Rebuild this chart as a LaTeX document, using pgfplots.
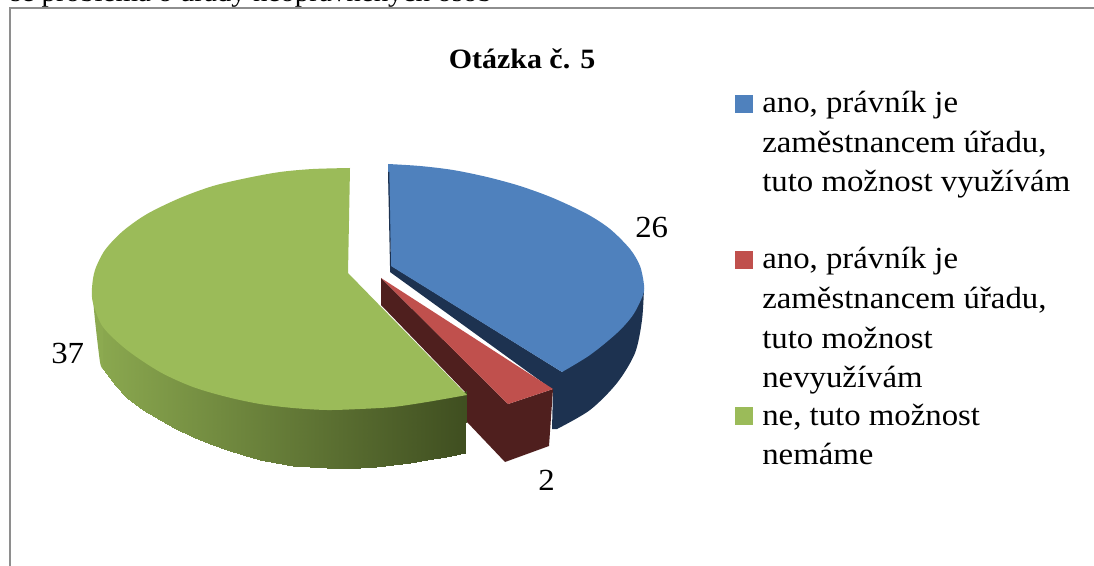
\documentclass[border=0pt]{standalone}
\usepackage{fontspec}
\setmainfont[FakeStretch=1.07]{Liberation Serif}
\usepackage{pgfplots}
\pgfplotsset{compat=1.18}

\definecolor{blueTop}{HTML}{4F81BD}
\definecolor{blueSide}{HTML}{1D3250}
\definecolor{redTop}{HTML}{C0504D}
\definecolor{redSide}{HTML}{4F1F1E}
\definecolor{greenTop}{HTML}{9BBB59}
\definecolor{frameGray}{HTML}{8E8E8E}

% axis units are the pixels of the reference, y runs downwards
\newcommand{\tl}[3]{\node[anchor=base west,inner sep=0pt] at (axis cs:#1,#2) {#3};}

\begin{document}
\begin{tikzpicture}
\useasboundingbox (0,0) rectangle (820.5pt,424.5pt);
\begin{axis}[
at={(0,0)},anchor=south west,
scale only axis,
width=820.5pt,height=424.5pt,
xmin=0,xmax=1094,ymin=0,ymax=566,
y dir=reverse,
hide axis,
clip=false,
colormap={side}{rgb255(0)=(63,78,32) rgb255(1)=(140,170,80)},
point meta min=0,point meta max=1,
font=\fontsize{23}{28}\selectfont
]

% frame
\addplot[frameGray,line width=1.3pt] coordinates {(10,566)(10,8)(1094,8)};

% blue slice, 26
\addplot[smooth,fill=blueSide,draw=none] coordinates {
(644,288)(642,320)(635,353)(617,383)(590,410)(557,429)
} -- (552,429) -- (553,390) -- (390,272) -- (390,265) -- (562,372) -- cycle;
\addplot[smooth,fill=blueTop,draw=none] coordinates {
(388,164)(420,166)(453,170)(487,177)(520,186)(553,198)(587,214)(610,229)(630,249)(640,266)(644,285)(643,295)(633,315)(617,333)(590,355)(562,372)
} -- (391,266) -- cycle;
\addplot[fill=blueSide,draw=none] coordinates {(388,172)(389.3,172)(391,266)(390,266)} -- cycle;

% red slice, 2
\addplot[fill=redSide,draw=none] coordinates {
(381,278)(508,404)(553,389)(549,446)(505,462)(467,422)(467,394)(381,305)
} -- cycle;
\addplot[fill=redTop,draw=none] coordinates {(381,278)(553,389)(508,404)} -- cycle;

% green slice, 37
\addplot[smooth,fill={rgb,255:red,140;green,170;blue,80},draw=none] coordinates {
(92,288)(95,320)(100,362)(103,369)
} -- (103,327) -- cycle;
\addplot[patch,patch type=rectangle,shader=interp,point meta=explicit] table[meta=c] {
x y c
103 327 .970
115 335 .939
115 385 .939
103 369 .970
115 335 .939
127 345 .907
127 398 .907
115 385 .939
127 345 .907
143 355 .864
143 410 .864
127 398 .907
143 355 .864
160 365 .819
160 420 .819
143 410 .864
160 365 .819
176 372 .776
176 429 .776
160 420 .819
176 372 .776
193 380 .731
193 437 .731
176 429 .776
193 380 .731
210 385 .685
210 444 .685
193 437 .731
210 385 .685
227 390 .640
227 450 .640
210 444 .685
227 390 .640
243 393 .597
243 455 .597
227 450 .640
243 393 .597
260 397 .552
260 460 .552
243 455 .597
260 397 .552
276 399 .509
276 463 .509
260 460 .552
276 399 .509
293 401 .464
293 466 .464
276 463 .509
293 401 .464
310 402 .419
310 467 .419
293 466 .464
310 402 .419
327 403 .373
327 468 .373
310 467 .419
327 403 .373
343 403 .331
343 468.5 .331
327 468 .373
343 403 .331
360 402 .285
360 468 .285
343 468.5 .331
360 402 .285
376 401 .243
376 467 .243
360 468 .285
376 401 .243
393 400 .197
393 465 .197
376 467 .243
393 400 .197
410 398 .152
410 463 .152
393 465 .197
410 398 .152
427 395 .107
427 460 .107
410 463 .152
427 395 .107
446 393 .056
446 457 .056
427 460 .107
446 393 .056
466 391 .005
465 453 .005
446 457 .056
};
\addplot[smooth,fill=greenTop,draw=none] coordinates {
(350,168)(313,169)(280,172)(247,178)(213,186)(180,198)(147,214)(123,231)(105,250)(95,270)(92,288)(93,303)
(103,327)(127,350)(160,372)(193,387)(227,397)(260,404)(293,408)(327,410)(360,409)(393,407)(427,402)(467,395)
} -- (348,273) -- cycle;

% legend keys
\addplot[fill=blueTop,draw=none] coordinates {(735,95)(753,95)(753,113)(735,113)} -- cycle;
\addplot[fill=redTop,draw=none] coordinates {(735,251)(753,251)(753,269)(735,269)} -- cycle;
\addplot[fill=greenTop,draw=none] coordinates {(735,407)(753,407)(753,425)(735,425)} -- cycle;

% text
\tl{10}{1.5}{\fontsize{20.3}{24}\selectfont se problémá o úřady neoprávněných osob}
\node[anchor=base,inner sep=0pt] at (axis cs:522,69) {\fontsize{21}{26}\selectfont\bfseries Otázka č. 5};
\tl{635}{238}{26}
\tl{51}{363}{37}
\tl{538}{490}{2}
\tl{762}{113}{ano, právník je}
\tl{762}{153}{zaměstnancem úřadu,}
\tl{762}{192}{tuto možnost využívám}
\tl{762}{269}{ano, právník je}
\tl{762}{308.5}{zaměstnancem úřadu,}
\tl{762}{348}{tuto možnost}
\tl{762}{387}{nevyužívám}
\tl{762}{425}{ne, tuto možnost}
\tl{762}{464}{nemáme}

\end{axis}
\end{tikzpicture}
\end{document}
